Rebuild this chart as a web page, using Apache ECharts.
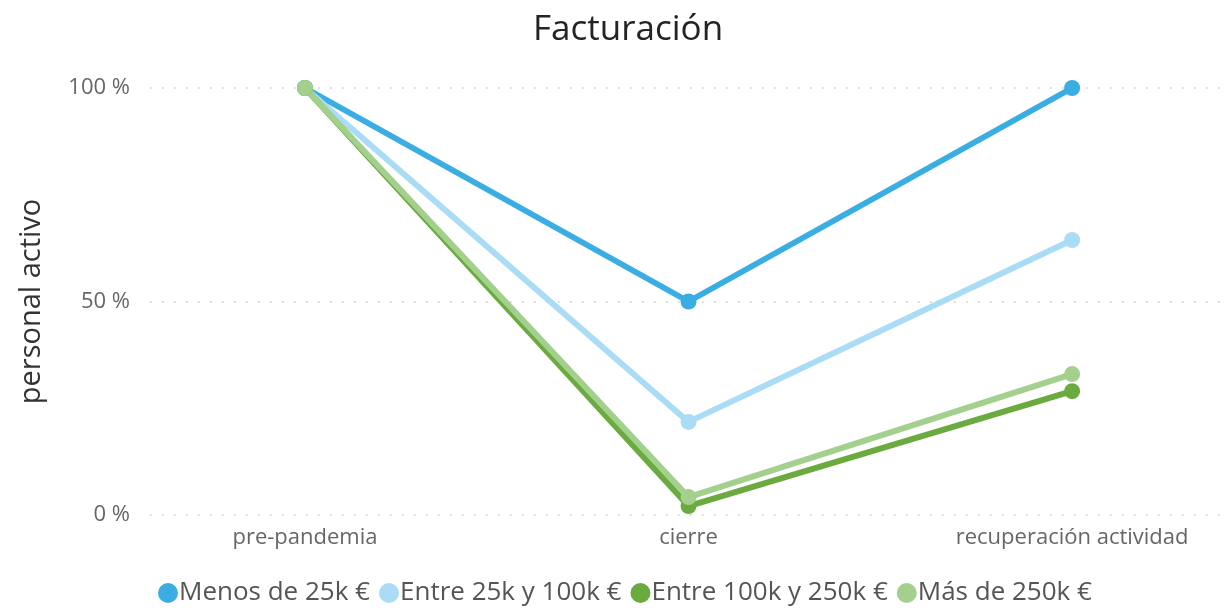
<!DOCTYPE html>
<html>
<head>
<meta charset="utf-8">
<script src="https://cdn.jsdelivr.net/npm/echarts@6/dist/echarts.min.js"></script>
<style>
  html, body { margin: 0; padding: 0; background: #fff; }
  #chart { width: 1229px; height: 613px; }
</style>
</head>
<body>
<div id="chart"></div>
<script>
// data
const categories = ["pre-pandemia", "cierre", "recuperación actividad"];
const seriesNames = ["Menos de 25k €", "Entre 25k y 100k €", "Entre 100k y 250k €", "Más de 250k €"];
const menos25k = [100, 50, 100];
const entre25k100k = [100, 21.8, 64.4];
const entre100k250k = [100, 2.1, 29.0];
const mas250k = [100, 4.2, 33.0];
const yTicks = [0, 50, 100];

const colors = ["#3aaee3", "#abdcf5", "#6aaa3e", "#a3d18d"];
const values = [menos25k, entre25k100k, entre100k250k, mas250k];
const font = "'Open Sans', 'Noto Sans', sans-serif";

const chart = echarts.init(document.getElementById("chart"), null, { renderer: "canvas" });

chart.setOption({
  animation: false,
  color: colors,
  title: {
    text: "Facturación",
    left: 528,
    top: 8,
    textStyle: { fontFamily: font, fontSize: 35, fontWeight: "normal", color: "#252423" }
  },
  legend: {
    bottom: 2,
    left: 153,
    icon: "circle",
    itemWidth: 20,
    itemHeight: 20,
    itemGap: 9,
    textStyle: { fontFamily: font, fontSize: 26, color: "#555", padding: [0, 0, 0, -4] },
    data: seriesNames
  },
  grid: { left: 150, right: 0, top: 88, bottom: 98 },
  xAxis: {
    type: "value",
    min: -0.404,
    max: 2.409,
    axisLine: { show: false },
    axisTick: { show: false },
    splitLine: { show: false },
    axisLabel: {
      customValues: [0, 1, 2],
      margin: 12,
      fontFamily: font,
      fontSize: 22,
      color: "#666",
      formatter: (v) => categories[Math.round(v)] || ""
    }
  },
  yAxis: {
    type: "value",
    min: yTicks[0],
    max: yTicks[yTicks.length - 1],
    interval: 50,
    name: "personal activo",
    nameLocation: "middle",
    nameGap: 104,
    nameTextStyle: { fontFamily: font, fontSize: 29, color: "#333" },
    axisLine: { show: false },
    axisTick: { show: false },
    axisLabel: {
      margin: 20,
      fontFamily: font,
      fontSize: 22,
      color: "#666",
      formatter: "{value} %"
    },
    splitLine: { lineStyle: { color: "#c8c8c8", width: 1.5, type: [1.5, 10.5] } }
  },
  series: seriesNames.map((name, i) => ({
    name,
    type: "line",
    data: values[i].map((v, j) => [j, v]),
    symbol: "circle",
    symbolSize: 16,
    lineStyle: { width: 6, color: colors[i] },
    itemStyle: { color: colors[i] }
  }))
});
</script>
</body>
</html>
